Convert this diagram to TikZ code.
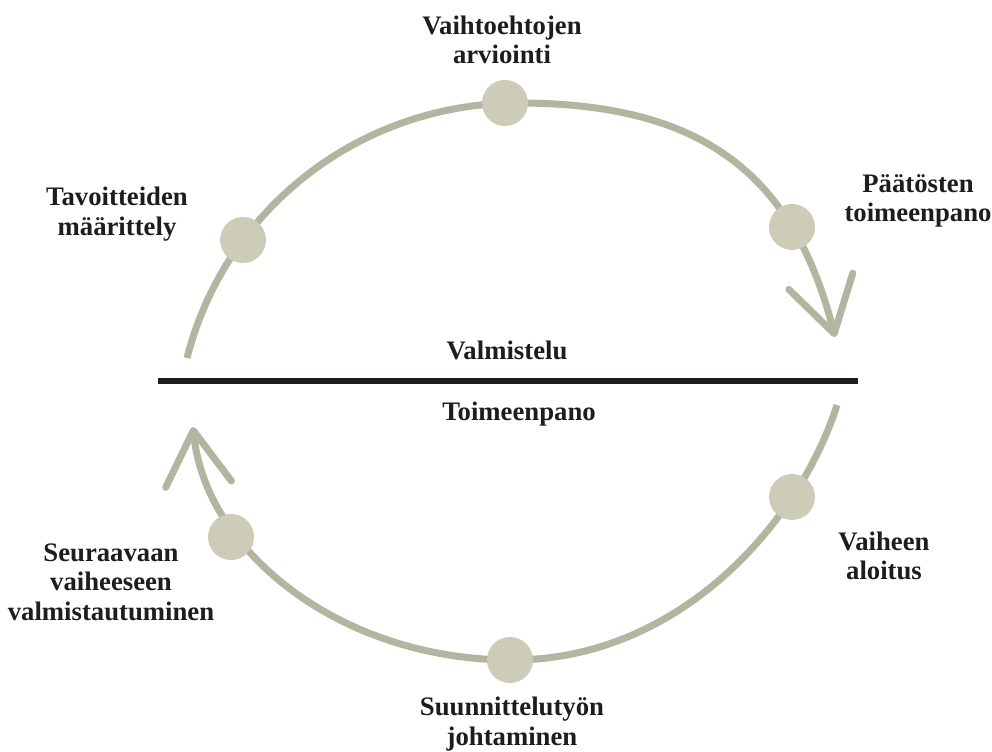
\documentclass[tikz,border=0pt]{standalone}
\usepackage{fontspec}
\setmainfont{Liberation Serif}
\usetikzlibrary{arrows.meta,positioning}
\definecolor{arcgray}{HTML}{B3B5A0}
\definecolor{dotfill}{HTML}{CDCCB8}
\definecolor{inkblack}{HTML}{1F1C1D}

\begin{document}
\begin{tikzpicture}[
  x=0.025cm, y=0.025cm,
  phase/.style={circle, fill=dotfill, minimum size=1.15cm, inner sep=0pt},
  loopline/.style={line width=0.175cm, arcgray, line cap=butt},
  tipend/.style={-{Straight Barb[length=1.35cm, width=1.65cm, round]}},
  plabel/.style={font=\bfseries\fontsize{19}{21}\selectfont, align=center, text=inkblack}
]
  \useasboundingbox (0,0) rectangle (992,751);

  % Upper arc: preparation
  \draw[loopline, tipend] (187,393) .. controls (225,543) and (361,648) .. (518,648)
    .. controls (700,648) and (793,579) .. (835,414);

  % Lower arc: implementation
  \draw[loopline, tipend] (837,346) .. controls (801,232) and (682,91) .. (512,91)
    .. controls (340,91) and (205,200) .. (193,324);

  % Dividing line
  \coordinate (lineL) at (158,370);
  \coordinate (lineR) at (858,370);
  \draw[inkblack, line width=0.13cm] (lineL) -- (lineR);

  % Phases
  \node[phase] (tav) at (243,511) {};
  \node[phase] (arv) at (505,648) {};
  \node[phase] (paat) at (792,524) {};
  \node[phase] (aloit) at (792,254) {};
  \node[phase] (johto) at (510,91) {};
  \node[phase] (seur) at (231,214) {};

  % Labels
  \node[plabel] (arvtxt) at (502,711) {Vaihtoehtojen\\arviointi};
  \node[plabel] (tavtxt) at (117,537) {Tavoitteiden\\määrittely};
  \node[plabel] (paattxt) at (918,550) {Päätösten\\toimeenpano};
  \node[plabel] (valmtxt) at (507,401) {Valmistelu};
  \node[plabel] (toimtxt) at (519,337) {Toimeenpano};
  \node[plabel] (aloittxt) at (884,195) {Vaiheen\\aloitus};
  \node[plabel] (seurtxt) at (111,169) {Seuraavaan\\vaiheeseen\\valmistautuminen};
  \node[plabel] (johtotxt) at (512,27) {Suunnittelutyön\\johtaminen};
\end{tikzpicture}
\end{document}
